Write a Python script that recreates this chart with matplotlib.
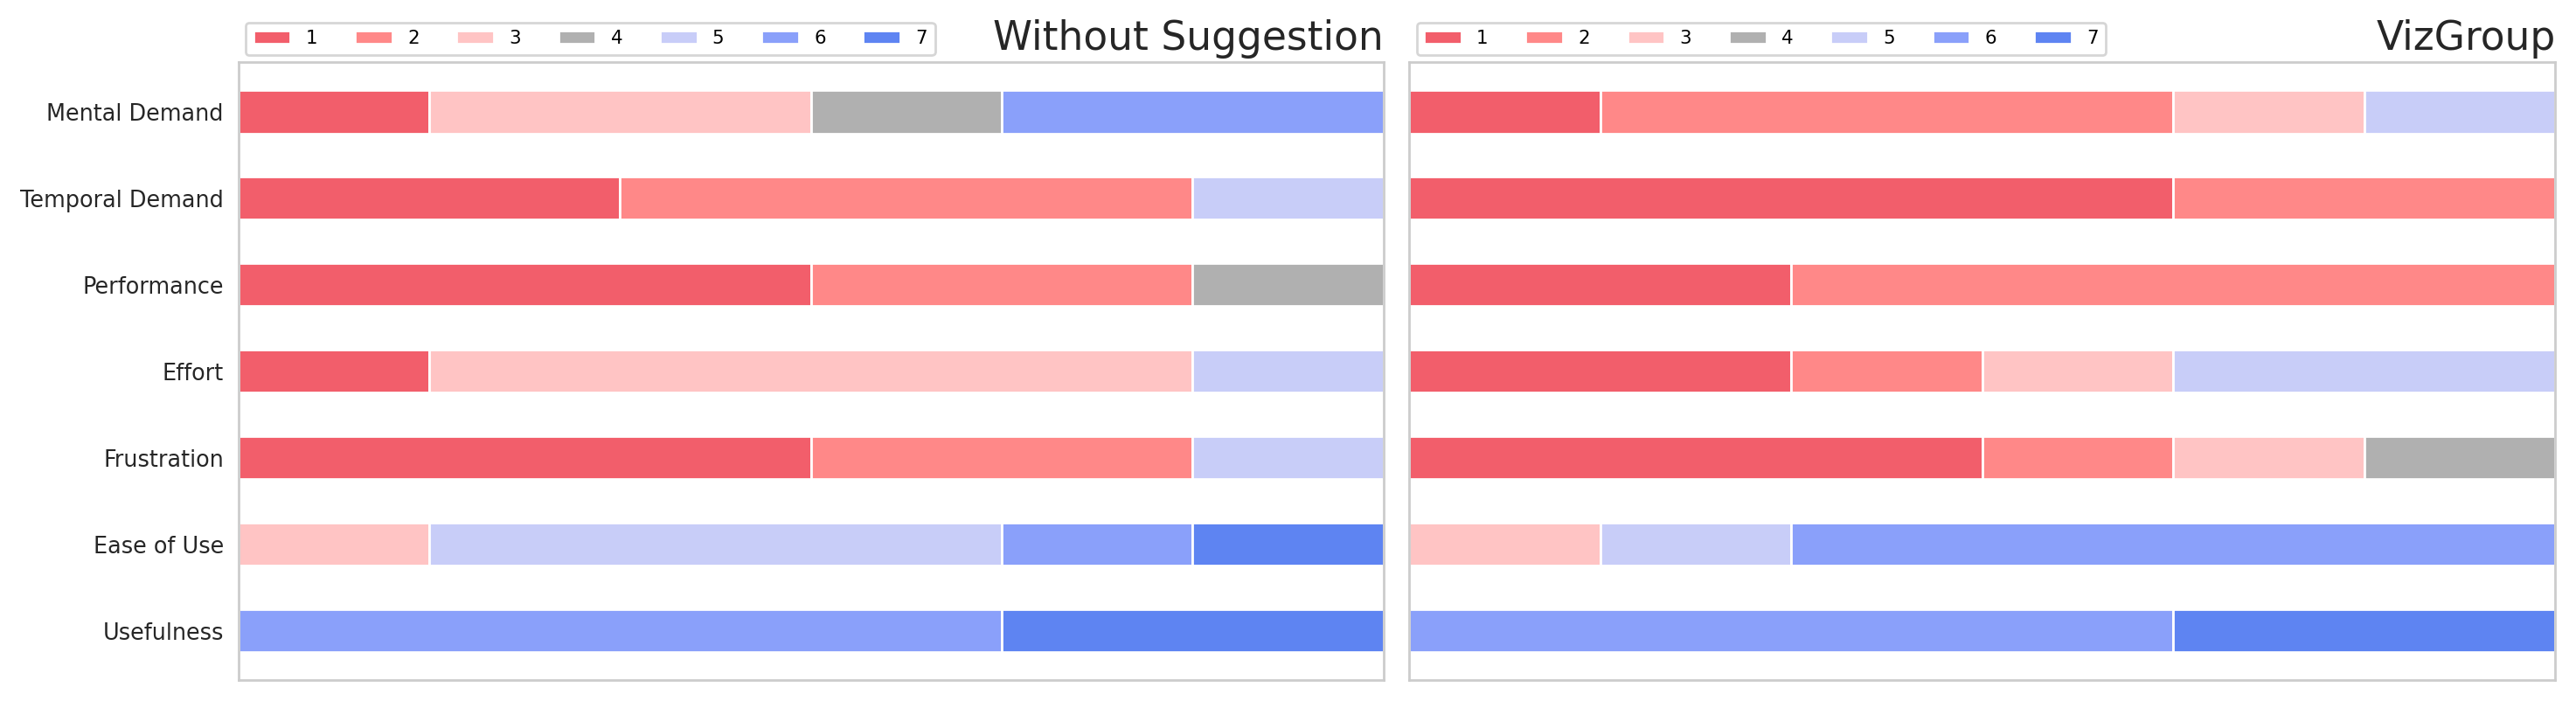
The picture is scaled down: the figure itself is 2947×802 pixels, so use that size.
import numpy as np
import matplotlib.pyplot as plt

categories = ["Mental Demand", "Temporal Demand", "Performance", "Effort",
              "Frustration", "Ease of Use", "Usefulness"]
levels = ["1", "2", "3", "4", "5", "6", "7"]
colors = ["#f25e6b", "#ff8888", "#ffc4c4", "#b0b0b0", "#c8cdf8", "#8aa0fa", "#5e84f2"]

# number of participants giving each rating, one list per rating level
without_1 = [1, 2, 3, 1, 3, 0, 0]
without_2 = [0, 3, 2, 0, 2, 0, 0]
without_3 = [2, 0, 0, 4, 0, 1, 0]
without_4 = [1, 0, 1, 0, 0, 0, 0]
without_5 = [0, 1, 0, 1, 1, 3, 0]
without_6 = [2, 0, 0, 0, 0, 1, 4]
without_7 = [0, 0, 0, 0, 0, 1, 2]

viz_1 = [1, 4, 2, 2, 3, 0, 0]
viz_2 = [3, 2, 4, 1, 1, 0, 0]
viz_3 = [1, 0, 0, 1, 1, 1, 0]
viz_4 = [0, 0, 0, 0, 1, 0, 0]
viz_5 = [1, 0, 0, 2, 0, 1, 0]
viz_6 = [0, 0, 0, 0, 0, 4, 4]
viz_7 = [0, 0, 0, 0, 0, 0, 2]

panels = [
    ("Without Suggestion", [without_1, without_2, without_3, without_4,
                            without_5, without_6, without_7]),
    ("VizGroup", [viz_1, viz_2, viz_3, viz_4, viz_5, viz_6, viz_7]),
]

fig = plt.figure(figsize=(14.735, 4.01), dpi=200)
axes = [fig.add_axes([0.0925, 0.030, 0.4445, 0.881]),
        fig.add_axes([0.547, 0.030, 0.445, 0.881])]

y = np.arange(len(categories))
for ax, (title, series) in zip(axes, panels):
    left = np.zeros(len(categories))
    for lab, vals, col in zip(levels, series, colors):
        vals = np.array(vals, dtype=float)
        ax.barh(y, vals, left=left, height=0.5, color=col,
                edgecolor="white", linewidth=1.0, label=lab)
        left += vals
    ax.set_xlim(0, 6)
    ax.set_ylim(6.57, -0.57)
    ax.set_xticks([])
    ax.set_yticks(y)
    ax.set_yticklabels(categories, fontsize=9.2, color="#262626")
    ax.tick_params(axis="y", length=0, pad=6)
    for s in ax.spines.values():
        s.set_color("#cccccc")
        s.set_linewidth(1.0)
    ax.set_title(title, loc="right", fontsize=16.4, color="#262626", pad=5)
    leg = ax.legend(loc="lower left", bbox_to_anchor=(0, 1.0), ncol=7,
                    fontsize=7.7, frameon=True, edgecolor="#cccccc",
                    borderaxespad=0.4)
    leg.get_frame().set_linewidth(1.0)

axes[1].set_yticklabels([])

plt.savefig("out.png", dpi=200)
